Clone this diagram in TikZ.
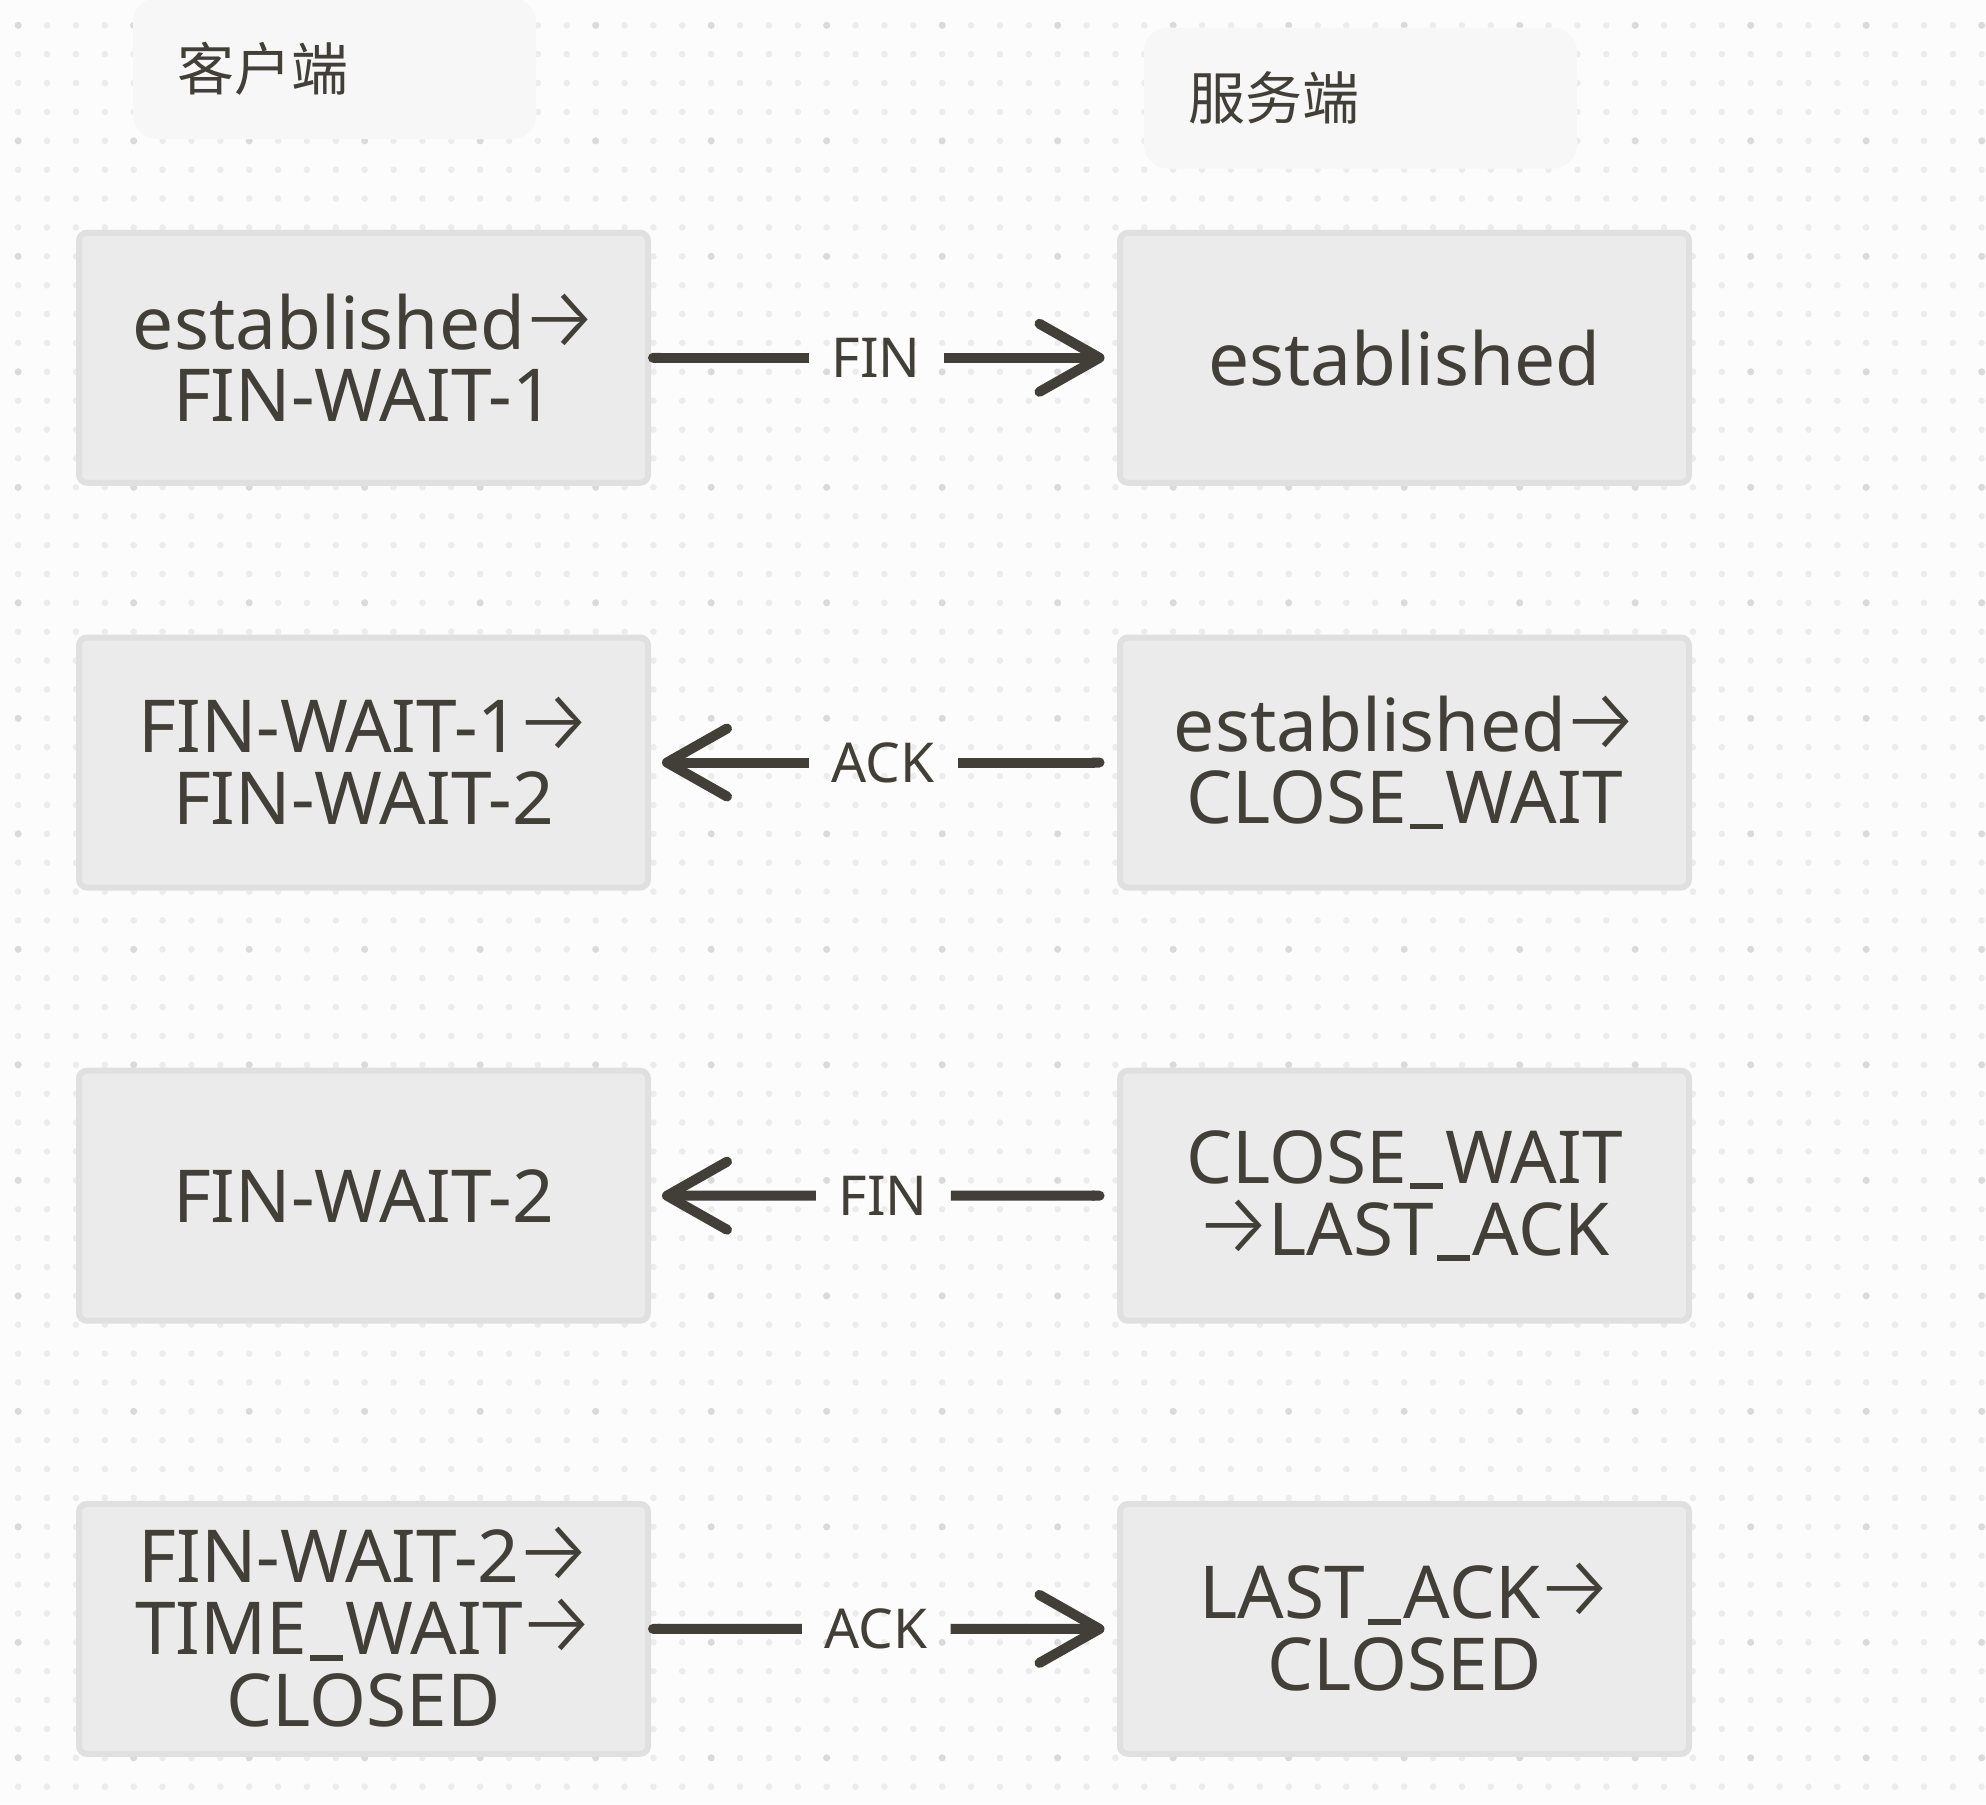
\documentclass[tikz,border=0pt]{standalone}
\usepackage{fontspec}
\setmainfont{Noto Sans}
\newfontfamily\cjk{Noto Sans CJK SC}
\newfontfamily\arrfont{Fira Sans Light}
\usetikzlibrary{arrows.meta,calc}
\definecolor{ink}{HTML}{423F38}
\definecolor{boxfill}{HTML}{EBEBEB}
\definecolor{boxline}{HTML}{E0E0E0}
\definecolor{hdrfill}{HTML}{F7F7F7}
\definecolor{bgcol}{HTML}{FCFCFC}
\definecolor{dotl}{HTML}{ECECEC}
\definecolor{dotd}{HTML}{DADADA}
\newcommand{\rar}{\kern-3pt\smash{\arrfont\fontsize{45}{36}\selectfont →}\kern-3pt}
\newcommand{\us}{\hspace{0.04em}\rule[-0.085em]{0.45em}{0.08em}\hspace{0.04em}}
\tikzset{
  barbtip/.tip={Straight Barb[length=30pt,width=34pt,round]},
  statebox/.style={draw=boxline, line width=3pt, fill=boxfill, rounded corners=4pt,
    minimum width=284.5pt, minimum height=125pt, outer sep=0pt, inner sep=0pt,
    align=center, text=ink, font=\fontsize{36.5}{36}\selectfont},
  hdr/.style={fill=hdrfill, rounded corners=12pt, minimum height=70.5pt,
    inner xsep=22pt, inner ysep=0pt, outer sep=0pt, align=left, text=ink,
    font=\cjk\fontsize{28.5}{30}\selectfont},
  lab/.style={text=ink, font=\fontsize{27.5}{28}\selectfont, inner xsep=11.5pt,
    inner ysep=0pt, outer sep=0pt},
  conn/.style={draw=ink, line width=5pt},
}
\begin{document}
\begin{tikzpicture}[x=0.5pt,y=-0.5pt]
\useasboundingbox (0,0) rectangle (1986,1804);
\fill[bgcol] (0,0) rectangle (1986,1804);
\foreach \i in {0,...,68}{\foreach \j in {0,...,61}{
  \fill[dotl] ({18.17+28.875*\i},{25.33+28.875*\j}) circle[radius=1.65pt];}}
\foreach \i in {0,4,...,68}{\foreach \j in {0,4,...,60}{
  \fill[dotd] ({18.17+28.875*\i},{25.33+28.875*\j}) circle[radius=1.75pt];}}

% headers
\node[hdr, text width=157.5pt] (hc) at (334.5,68.5) {客户端};
\node[hdr, text width=172.5pt] (hs) at (1360.5,98) {服务端};

% state boxes
\node[statebox] (L1) at (363.5,357.8) {established\rar\\FIN-WAIT-1};
\node[statebox] (R1) at (1404.5,357.8) {established};
\node[statebox] (L2) at (363.5,762.5) {FIN-WAIT-1\rar\\FIN-WAIT-2};
\node[statebox] (R2) at (1404.5,762.5) {established\rar\\CLOSE\us WAIT};
\node[statebox] (L3) at (363.5,1195.7) {FIN-WAIT-2};
\node[statebox] (R3) at (1404.5,1195.7) {CLOSE\us WAIT\\\rar LAST\us ACK};
\node[statebox] (L4) at (363.5,1628.9) {FIN-WAIT-2\rar\\TIME\us WAIT\rar\\CLOSED};
\node[statebox] (R4) at (1404.5,1628.9) {LAST\us ACK\rar\\CLOSED};

% row 1: FIN ->
\coordinate (s1) at (L1.east);
\coordinate (e1) at ([xshift=-7.75pt]R1.west);
\node[lab] (m1) at ($(s1)!0.5!(e1)$) {FIN};
\draw[conn, {Round Cap}-] (s1) -- (m1.west);
\draw[conn, -barbtip] (m1.east) -- (e1);

% row 2: <- ACK
\coordinate (s2) at ([xshift=7pt]L2.east);
\coordinate (e2) at ([xshift=-7.75pt]R2.west);
\node[lab] (m2) at ($(s2)!0.5!(e2)$) {ACK};
\draw[conn, {Round Cap}-] (e2) -- (m2.east);
\draw[conn, -barbtip] (m2.west) -- (s2);

% row 3: <- FIN
\coordinate (s3) at ([xshift=7pt]L3.east);
\coordinate (e3) at ([xshift=-7.75pt]R3.west);
\node[lab] (m3) at ($(s3)!0.5!(e3)$) {FIN};
\draw[conn, {Round Cap}-] (e3) -- (m3.east);
\draw[conn, -barbtip] (m3.west) -- (s3);

% row 4: ACK ->
\coordinate (s4) at (L4.east);
\coordinate (e4) at ([xshift=-7.75pt]R4.west);
\node[lab] (m4) at ($(s4)!0.5!(e4)$) {ACK};
\draw[conn, {Round Cap}-] (s4) -- (m4.west);
\draw[conn, -barbtip] (m4.east) -- (e4);
\end{tikzpicture}
\end{document}
